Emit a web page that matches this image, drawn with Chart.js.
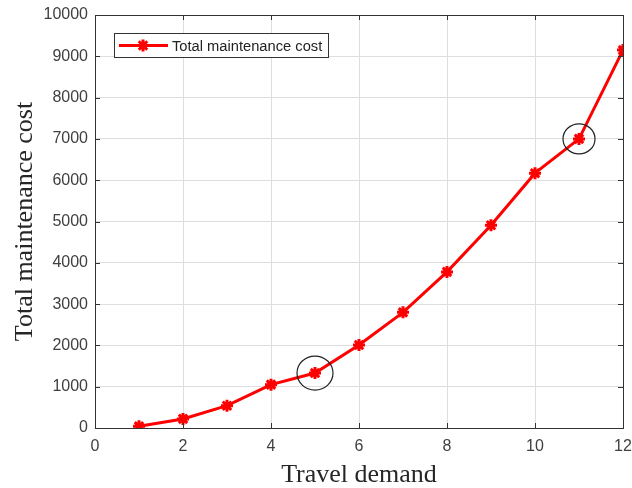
<!DOCTYPE html>
<html>
<head>
<meta charset="utf-8">
<script src="https://cdn.jsdelivr.net/npm/chart.js@4.4.0/dist/chart.umd.min.js"></script>
<style>
  body { margin: 0; background: #fff; }
  #wrap { width: 632px; height: 488px; }
</style>
</head>
<body>
<div id="wrap"><canvas id="costChart" width="632" height="488"></canvas></div>
<script>
// values
const demand = [1, 2, 3, 4, 5, 6, 7, 8, 9, 10, 11, 12];
const totalCost = [40, 220, 540, 1050, 1330, 2010, 2800, 3780, 4910, 6170, 7000, 9150];
const circled = [4, 10]; // indexes of the circled points (demand 5 and 11)
const xTicks = [0, 2, 4, 6, 8, 10, 12];
const yTicks = [0, 1000, 2000, 3000, 4000, 5000, 6000, 7000, 8000, 9000, 10000];

const seriesName = 'Total maintenance cost';
const red = '#ff0000';
const tickFont = { family: 'Liberation Sans, Arial, sans-serif', size: 16 };
const titleFont = { family: 'Liberation Serif, Times New Roman, serif', size: 26, lineHeight: 1 };

function drawStar(ctx, x, y, r) {
    ctx.beginPath();
    for (let a = 0; a < 4; a++) {
        const ang = a * Math.PI / 4;
        ctx.moveTo(x + Math.cos(ang) * r, y + Math.sin(ang) * r);
        ctx.lineTo(x - Math.cos(ang) * r, y - Math.sin(ang) * r);
    }
    ctx.stroke();
}

// box round the axes, inward ticks, the two circles and the legend
const extras = {
    id: 'extras',
    afterDatasetsDraw(chart) {
        const { ctx, chartArea: a, scales: { x, y } } = chart;
        ctx.save();

        // circles
        ctx.strokeStyle = '#222';
        ctx.lineWidth = 1.2;
        circled.forEach((i, k) => {
            const px = x.getPixelForValue(demand[i]);
            const py = y.getPixelForValue(totalCost[i]);
            ctx.beginPath();
            ctx.ellipse(px, py, k === 0 ? 18 : 16, k === 0 ? 17 : 15, 0, 0, Math.PI * 2);
            ctx.stroke();
        });

        // axes box
        ctx.strokeStyle = '#333';
        ctx.lineWidth = 1;
        ctx.strokeRect(a.left + 0.5, a.top + 0.5, a.right - a.left, a.bottom - a.top);
        ctx.beginPath();
        xTicks.forEach(v => {
            const px = Math.round(x.getPixelForValue(v)) + 0.5;
            ctx.moveTo(px, a.bottom); ctx.lineTo(px, a.bottom - 5);
            ctx.moveTo(px, a.top); ctx.lineTo(px, a.top + 5);
        });
        yTicks.forEach(v => {
            const py = Math.round(y.getPixelForValue(v)) + 0.5;
            ctx.moveTo(a.left, py); ctx.lineTo(a.left + 5, py);
            ctx.moveTo(a.right, py); ctx.lineTo(a.right - 5, py);
        });
        ctx.stroke();

        // legend
        const lx = a.left + 19, ly = a.top + 18, lw = 214, lh = 24;
        ctx.fillStyle = '#fff';
        ctx.fillRect(lx, ly, lw, lh);
        ctx.strokeStyle = '#333';
        ctx.strokeRect(lx + 0.5, ly + 0.5, lw, lh);
        const my = ly + lh / 2 + 0.5;
        ctx.strokeStyle = red;
        ctx.lineWidth = 3;
        ctx.beginPath();
        ctx.moveTo(lx + 5, my); ctx.lineTo(lx + 54, my);
        ctx.stroke();
        drawStar(ctx, lx + 29, my, 6);
        ctx.fillStyle = '#222';
        ctx.font = '14.7px Liberation Sans, Arial, sans-serif';
        ctx.textBaseline = 'middle';
        ctx.fillText(seriesName, lx + 58, my + 1);

        ctx.restore();
    }
};

const ctx = document.getElementById('costChart').getContext('2d');

let costChart = new Chart(ctx, {
    type: 'line',
    data: {
        datasets: [{
            label: seriesName,
            data: demand.map((d, i) => ({ x: d, y: totalCost[i] })),
            borderColor: red,
            backgroundColor: red,
            borderWidth: 3,
            tension: 0,
            pointStyle: 'star',
            pointRadius: 6,
            pointBorderWidth: 3,
            pointBorderColor: red,
            pointBackgroundColor: red,
            fill: false
        }]
    },
    options: {
        responsive: false,
        animation: false,
        devicePixelRatio: 1,
        layout: { padding: { top: 15, right: 9, left: 0, bottom: 0 } },
        plugins: {
            legend: { display: false },
            tooltip: { enabled: false }
        },
        scales: {
            x: {
                type: 'linear',
                min: 0,
                max: 12,
                afterFit: s => { s.height = 60; s.paddingLeft = 0; s.paddingRight = 0; },
                afterBuildTicks: s => { s.ticks = xTicks.map(v => ({ value: v })); },
                ticks: { font: tickFont, color: '#404040', padding: 9 },
                grid: { color: '#dedede', drawTicks: false },
                border: { display: false },
                title: { display: true, text: 'Travel demand', font: titleFont, color: '#262626', padding: { top: 0, bottom: 0 } }
            },
            y: {
                min: 0,
                max: 10000,
                afterFit: s => { s.width = 95; s.paddingTop = 0; s.paddingBottom = 0; },
                afterBuildTicks: s => { s.ticks = yTicks.map(v => ({ value: v })); },
                ticks: { font: tickFont, color: '#404040', padding: 7, callback: v => String(v) },
                grid: { color: '#dedede', drawTicks: false },
                border: { display: false },
                title: { display: true, text: 'Total maintenance cost', font: titleFont, color: '#262626', padding: { top: 12, bottom: 0 } }
            }
        }
    },
    plugins: [extras]
});
</script>
</body>
</html>
